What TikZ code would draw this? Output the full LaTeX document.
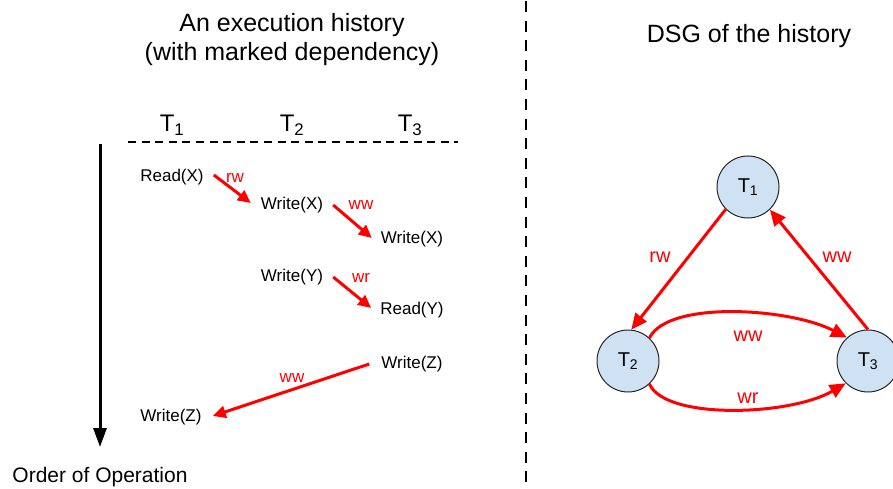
\documentclass[tikz,border=0pt]{standalone}
\usepackage{fontspec}
\setmainfont{Liberation Sans}
\usetikzlibrary{arrows.meta}
\definecolor{nodefill}{HTML}{CFE2F3}
\begin{document}
\begin{tikzpicture}[x=1pt,y=-1pt,
  txt/.style={inner sep=0pt, font=\fontsize{17}{20}\selectfont},
  lbl/.style={inner sep=0pt, text=red, font=\fontsize{17}{20}\selectfont},
  dlbl/.style={inner sep=0pt, text=red, font=\fontsize{20}{24}\selectfont},
  ttl/.style={inner sep=0pt, font=\fontsize{25}{30}\selectfont},
  hdr/.style={inner sep=0pt, font=\fontsize{24}{28}\selectfont},
  dep/.style={draw=red, line width=3pt, -{Triangle[length=13pt,width=12pt]}},
  dsg/.style={draw=red, line width=3pt, -{Triangle[length=16pt,width=14pt]}},
  tx/.style={circle, draw=black!85, line width=1pt, fill=nodefill, minimum size=62pt, inner sep=0pt, font=\fontsize{20}{24}\selectfont},
]
\useasboundingbox (0,0) rectangle (893,489);

% titles
\node[ttl, anchor=base] (title1) at (292,32) {An execution history};
\node[ttl, anchor=base] (title2) at (292,61) {(with marked dependency)};
\node[ttl, anchor=base] (dsgtitle) at (749,43) {DSG of the history};

% divider
\coordinate (dtop) at (526,1);
\coordinate (dbot) at (526,489);
\draw[line width=2.7pt, dash pattern=on 11pt off 8.6pt] (dtop) -- (dbot);

% headers
\node[hdr, anchor=base] (h1) at (172,132) {T\textsubscript{1}};
\node[hdr, anchor=base] (h2) at (292,132) {T\textsubscript{2}};
\node[hdr, anchor=base] (h3) at (410,132) {T\textsubscript{3}};
\coordinate (dl) at (128,142);
\coordinate (dr) at (458,142);
\draw[line width=1.8pt, dash pattern=on 8pt off 5.6pt] (dl) -- (dr);

% order arrow
\coordinate (vtop) at (100,144);
\coordinate (vbot) at (100,447);
\draw[line width=3pt, -{Triangle[length=19pt,width=13pt]}] (vtop) -- (vbot);
\node[inner sep=0pt, anchor=base, font=\fontsize{21}{25}\selectfont] (order) at (100,482) {Order of Operation};

% operations
\node[txt] (rx)  at (172,177) {Read(X)};
\node[txt] (wx1) at (292,205) {Write(X)};
\node[txt] (wx2) at (412,239) {Write(X)};
\node[txt] (wy)  at (292,277) {Write(Y)};
\node[txt] (ry)  at (412,310) {Read(Y)};
\node[txt] (wz1) at (412,364) {Write(Z)};
\node[txt] (wz2) at (171,417) {Write(Z)};

\draw[dep] ([xshift=10pt,yshift=2pt]rx.east) -- ([xshift=-10pt,yshift=2pt]wx1.west);
\draw[dep] ([xshift=10pt]wx1.east) -- ([xshift=-9pt,yshift=1pt]wx2.west);
\draw[dep] ([xshift=10pt]wy.east) -- ([xshift=-9pt,yshift=2pt]ry.west);
\draw[dep] ([xshift=-12pt]wz1.west) -- ([xshift=11pt,yshift=1pt]wz2.east);

\node[lbl] (l1) at (235,178) {rw};
\node[lbl] (l2) at (361,205) {ww};
\node[lbl] (l3) at (361,278) {wr};
\node[lbl] (l4) at (292,378) {ww};

% DSG
\node[tx] (t1) at (748,187) {T\textsubscript{1}};
\node[tx] (t2) at (628,361) {T\textsubscript{2}};
\node[tx] (t3) at (868,361) {T\textsubscript{3}};

\draw[dsg] (t1.225) -- (t2.84);
\draw[dsg] (t3.90) -- (t1.-46);
\draw[dsg] (t2.47) .. controls (668,300) and (790,308) .. (t3.132);
\draw[dsg] (t2.-47) .. controls (665,420) and (790,416) .. (t3.-135);

\node[dlbl] (d1) at (660,257) {rw};
\node[dlbl] (d2) at (837,257) {ww};
\node[dlbl] (d3) at (748,336) {ww};
\node[dlbl] (d4) at (748,398) {wr};
\end{tikzpicture}
\end{document}
